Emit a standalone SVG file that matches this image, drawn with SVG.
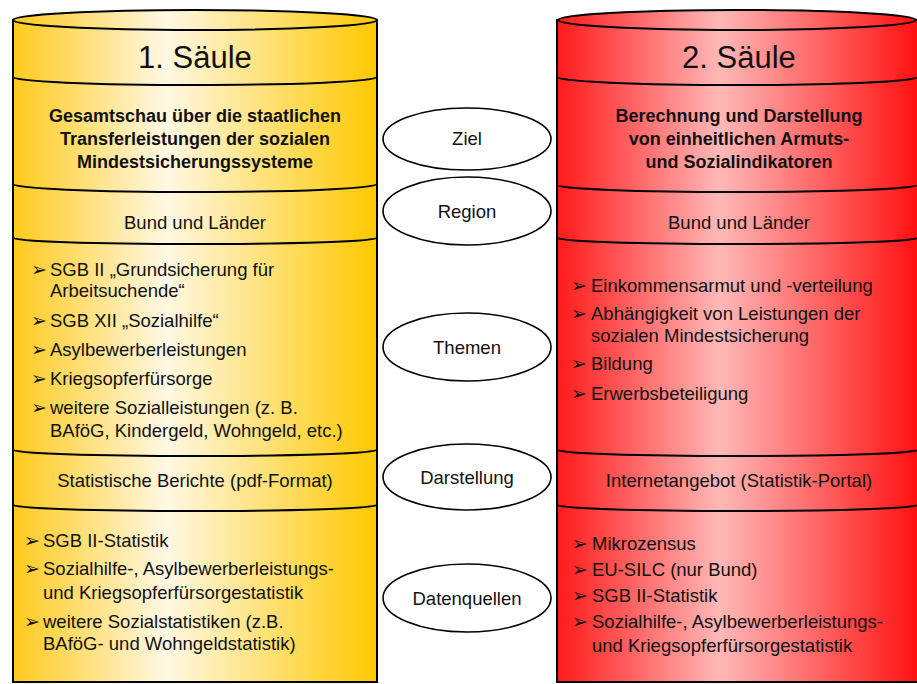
<svg xmlns="http://www.w3.org/2000/svg" width="917" height="684" viewBox="0 0 917 684">
<defs>
<linearGradient id="gGold" x1="0" y1="0" x2="1" y2="0">
<stop offset="0" stop-color="#FFCA1C"/>
<stop offset="0.42" stop-color="#FFF8E4"/>
<stop offset="1" stop-color="#FFC800"/>
</linearGradient>
<linearGradient id="gRed" x1="0" y1="0" x2="1" y2="0">
<stop offset="0" stop-color="#FF1A1A"/>
<stop offset="0.45" stop-color="#FFB8B8"/>
<stop offset="1" stop-color="#FF1010"/>
</linearGradient>
<style>
.out{stroke:#000;stroke-width:2;}
.div{fill:none;stroke:#000;stroke-width:2;}
.ell{fill:#fff;stroke:#000;stroke-width:1.6;}
text{font-family:"Liberation Sans",Arial,sans-serif;fill:#111;}
.title{font-size:31px;text-anchor:middle;}
.bold{font-size:18px;font-weight:bold;text-anchor:middle;}
.mid{font-size:18.5px;text-anchor:middle;}
.item{font-size:18.5px;}
.bul{font-family:"DejaVu Sans",sans-serif;font-size:19px;}
</style>
</defs>

<g id="saeule1">
<rect class="out" x="13" y="20" width="364" height="662" fill="url(#gGold)"/>
<ellipse class="out" cx="195" cy="20" rx="182" ry="10" fill="url(#gGold)"/>
<path class="div" d="M13,77 A182,8 0 0 0 377,77"/>
<path class="div" d="M13,184 A182,8 0 0 0 377,184"/>
<path class="div" d="M13,238 A182,6 0 0 0 377,238"/>
<path class="div" d="M13,450 A182,6 0 0 0 377,450"/>
<path class="div" d="M13,505 A182,6 0 0 0 377,505"/>
<text class="title" x="195" y="68">1. Säule</text>
<text class="bold" x="195" y="122">Gesamtschau über die staatlichen</text>
<text class="bold" x="195" y="145">Transferleistungen der sozialen</text>
<text class="bold" x="195" y="168">Mindestsicherungssysteme</text>
<text class="mid" x="195" y="229">Bund und Länder</text>
<text class="bul" x="31" y="276">➢</text>
<text class="item" x="50" y="276">SGB II „Grundsicherung für</text>
<text class="item" x="50" y="297">Arbeitsuchende“</text>
<text class="bul" x="31" y="327">➢</text>
<text class="item" x="50" y="327">SGB XII „Sozialhilfe“</text>
<text class="bul" x="31" y="356">➢</text>
<text class="item" x="50" y="356">Asylbewerberleistungen</text>
<text class="bul" x="31" y="385">➢</text>
<text class="item" x="50" y="385">Kriegsopferfürsorge</text>
<text class="bul" x="31" y="414">➢</text>
<text class="item" x="50" y="414">weitere Sozialleistungen (z. B.</text>
<text class="item" x="50" y="437">BAföG, Kindergeld, Wohngeld, etc.)</text>
<text class="mid" x="195" y="487">Statistische Berichte (pdf-Format)</text>
<text class="bul" x="24" y="547">➢</text>
<text class="item" x="43" y="547">SGB II-Statistik</text>
<text class="bul" x="24" y="575">➢</text>
<text class="item" x="43" y="575">Sozialhilfe-, Asylbewerberleistungs-</text>
<text class="item" x="43" y="599">und Kriegsopferfürsorgestatistik</text>
<text class="bul" x="24" y="628">➢</text>
<text class="item" x="43" y="628">weitere Sozialstatistiken (z.B.</text>
<text class="item" x="43" y="650">BAföG- und Wohngeldstatistik)</text>
</g>

<g id="saeule2">
<rect class="out" x="557" y="20" width="362" height="662" fill="url(#gRed)"/>
<ellipse class="out" cx="737" cy="20" rx="179" ry="10" fill="url(#gRed)"/>
<path class="div" d="M557,77 A180,8 0 0 0 917,77"/>
<path class="div" d="M557,185 A180,7 0 0 0 917,185"/>
<path class="div" d="M557,238 A180,6 0 0 0 917,238"/>
<path class="div" d="M557,450 A180,6 0 0 0 917,450"/>
<path class="div" d="M557,505 A180,6 0 0 0 917,505"/>
<text class="title" x="739" y="68">2. Säule</text>
<text class="bold" x="739" y="122">Berechnung und Darstellung</text>
<text class="bold" x="739" y="145">von einheitlichen Armuts-</text>
<text class="bold" x="739" y="168">und Sozialindikatoren</text>
<text class="mid" x="739" y="229">Bund und Länder</text>
<text class="bul" x="571" y="292">➢</text>
<text class="item" x="591" y="292">Einkommensarmut und -verteilung</text>
<text class="bul" x="571" y="320">➢</text>
<text class="item" x="591" y="320">Abhängigkeit von Leistungen der</text>
<text class="item" x="591" y="342">sozialen Mindestsicherung</text>
<text class="bul" x="571" y="370">➢</text>
<text class="item" x="591" y="370">Bildung</text>
<text class="bul" x="571" y="400">➢</text>
<text class="item" x="591" y="400">Erwerbsbeteiligung</text>
<text class="mid" x="739" y="487">Internetangebot (Statistik-Portal)</text>
<text class="bul" x="572" y="550">➢</text>
<text class="item" x="592" y="550">Mikrozensus</text>
<text class="bul" x="572" y="576">➢</text>
<text class="item" x="592" y="576">EU-SILC (nur Bund)</text>
<text class="bul" x="572" y="602">➢</text>
<text class="item" x="592" y="602">SGB II-Statistik</text>
<text class="bul" x="572" y="628">➢</text>
<text class="item" x="592" y="628">Sozialhilfe-, Asylbewerberleistungs-</text>
<text class="item" x="592" y="652">und Kriegsopferfürsorgestatistik</text>
</g>

<g id="ziel">
<ellipse class="ell" cx="467" cy="139" rx="84" ry="31"/>
<text class="mid" x="467" y="145">Ziel</text>
</g>
<g id="region">
<ellipse class="ell" cx="467" cy="211" rx="84" ry="34"/>
<text class="mid" x="467" y="218">Region</text>
</g>
<g id="themen">
<ellipse class="ell" cx="467" cy="347" rx="84" ry="34"/>
<text class="mid" x="467" y="354">Themen</text>
</g>
<g id="darstellung">
<ellipse class="ell" cx="467" cy="477" rx="84" ry="33"/>
<text class="mid" x="467" y="484">Darstellung</text>
</g>
<g id="datenquellen">
<ellipse class="ell" cx="467" cy="598" rx="84" ry="34"/>
<text class="mid" x="467" y="605">Datenquellen</text>
</g>
</svg>
